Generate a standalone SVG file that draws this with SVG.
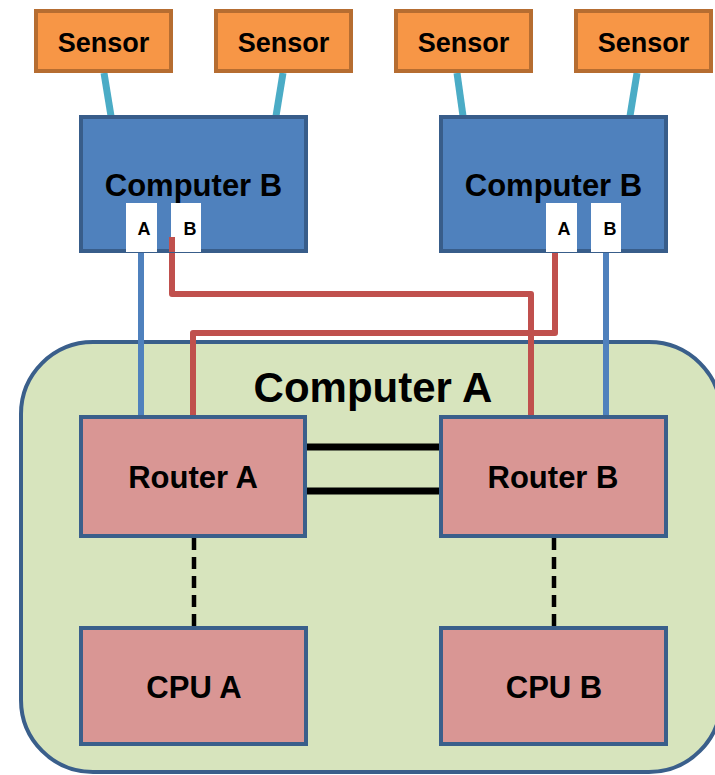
<svg xmlns="http://www.w3.org/2000/svg" width="715" height="775" viewBox="0 0 715 775">
<style>
text{font-family:"Liberation Sans",Arial,sans-serif;font-weight:bold;fill:#000;text-anchor:middle}
.sensor{fill:#F79646;stroke:#B66D31;stroke-width:4}
.compb{fill:#4F81BD;stroke:#385D8A;stroke-width:4}
.pink{fill:#D99694;stroke:#3A5F8B;stroke-width:4}
.port{fill:#fff}
.teal{stroke:#4BACC6;stroke-width:7;fill:none}
.blue{stroke:#4F81BD;stroke-width:6;fill:none}
.red{stroke:#C0504D;stroke-width:6;fill:none;stroke-linejoin:round}
.black{stroke:#000;stroke-width:7}
.dash{stroke:#000;stroke-width:4.5;stroke-dasharray:12 7}
.s{font-size:27px}
.m{font-size:31px}
.p{font-size:18px}
</style>
<g id="computerA">
<rect x="21" y="342" width="700" height="430" rx="72" fill="#D7E4BD" stroke="#3A5F8B" stroke-width="4"/>
<text x="373" y="402" style="font-size:42px">Computer A</text>
</g>
<g id="connectors">
<line class="teal" x1="104" y1="73" x2="111" y2="116"/>
<line class="teal" x1="283" y1="73" x2="276" y2="116"/>
<line class="teal" x1="457" y1="73" x2="463" y2="116"/>
<line class="teal" x1="637" y1="73" x2="630" y2="116"/>
<line class="blue" x1="141" y1="252" x2="141" y2="417"/>
<line class="blue" x1="606" y1="252" x2="606" y2="417"/>
<path class="red" d="M172 237 V294 H531 V417"/>
<path class="red" d="M555 252 V333 H193 V417"/>
<line class="black" x1="305" y1="447" x2="441" y2="447"/>
<line class="black" x1="305" y1="491" x2="441" y2="491"/>
<line class="dash" x1="194" y1="538" x2="194" y2="627"/>
<line class="dash" x1="554" y1="538" x2="554" y2="627"/>
</g>
<g id="sensor1"><rect class="sensor" x="36" y="11" width="135" height="60"/><text class="s" x="103.5" y="52">Sensor</text></g>
<g id="sensor2"><rect class="sensor" x="216" y="11" width="135" height="60"/><text class="s" x="283.5" y="52">Sensor</text></g>
<g id="sensor3"><rect class="sensor" x="396" y="11" width="135" height="60"/><text class="s" x="463.5" y="52">Sensor</text></g>
<g id="sensor4"><rect class="sensor" x="576" y="11" width="135" height="60"/><text class="s" x="643.5" y="52">Sensor</text></g>
<g id="computerB1">
<rect class="compb" x="81" y="117" width="225" height="134"/>
<text class="m" x="193.5" y="196">Computer B</text>
<rect class="port" x="126" y="203" width="31" height="49"/>
<text class="p" x="144" y="235">A</text>
<rect class="port" x="171" y="203" width="30" height="49"/>
<line class="red" x1="172" y1="237" x2="172" y2="252"/>
<text class="p" x="190" y="235">B</text>
</g>
<g id="computerB2">
<rect class="compb" x="441" y="117" width="225" height="134"/>
<text class="m" x="553.5" y="196">Computer B</text>
<rect class="port" x="546" y="203" width="31" height="49"/>
<text class="p" x="564" y="235">A</text>
<rect class="port" x="591" y="203" width="30" height="49"/>
<text class="p" x="610" y="235">B</text>
</g>
<g id="routerA"><rect class="pink" x="81" y="417" width="224" height="119"/><text class="m" x="193" y="488">Router A</text></g>
<g id="routerB"><rect class="pink" x="441" y="417" width="225" height="119"/><text class="m" x="553" y="488">Router B</text></g>
<g id="cpuA"><rect class="pink" x="81" y="628" width="225" height="116"/><text class="m" x="194" y="698">CPU A</text></g>
<g id="cpuB"><rect class="pink" x="441" y="628" width="225" height="116"/><text class="m" x="554" y="698">CPU B</text></g>
</svg>
